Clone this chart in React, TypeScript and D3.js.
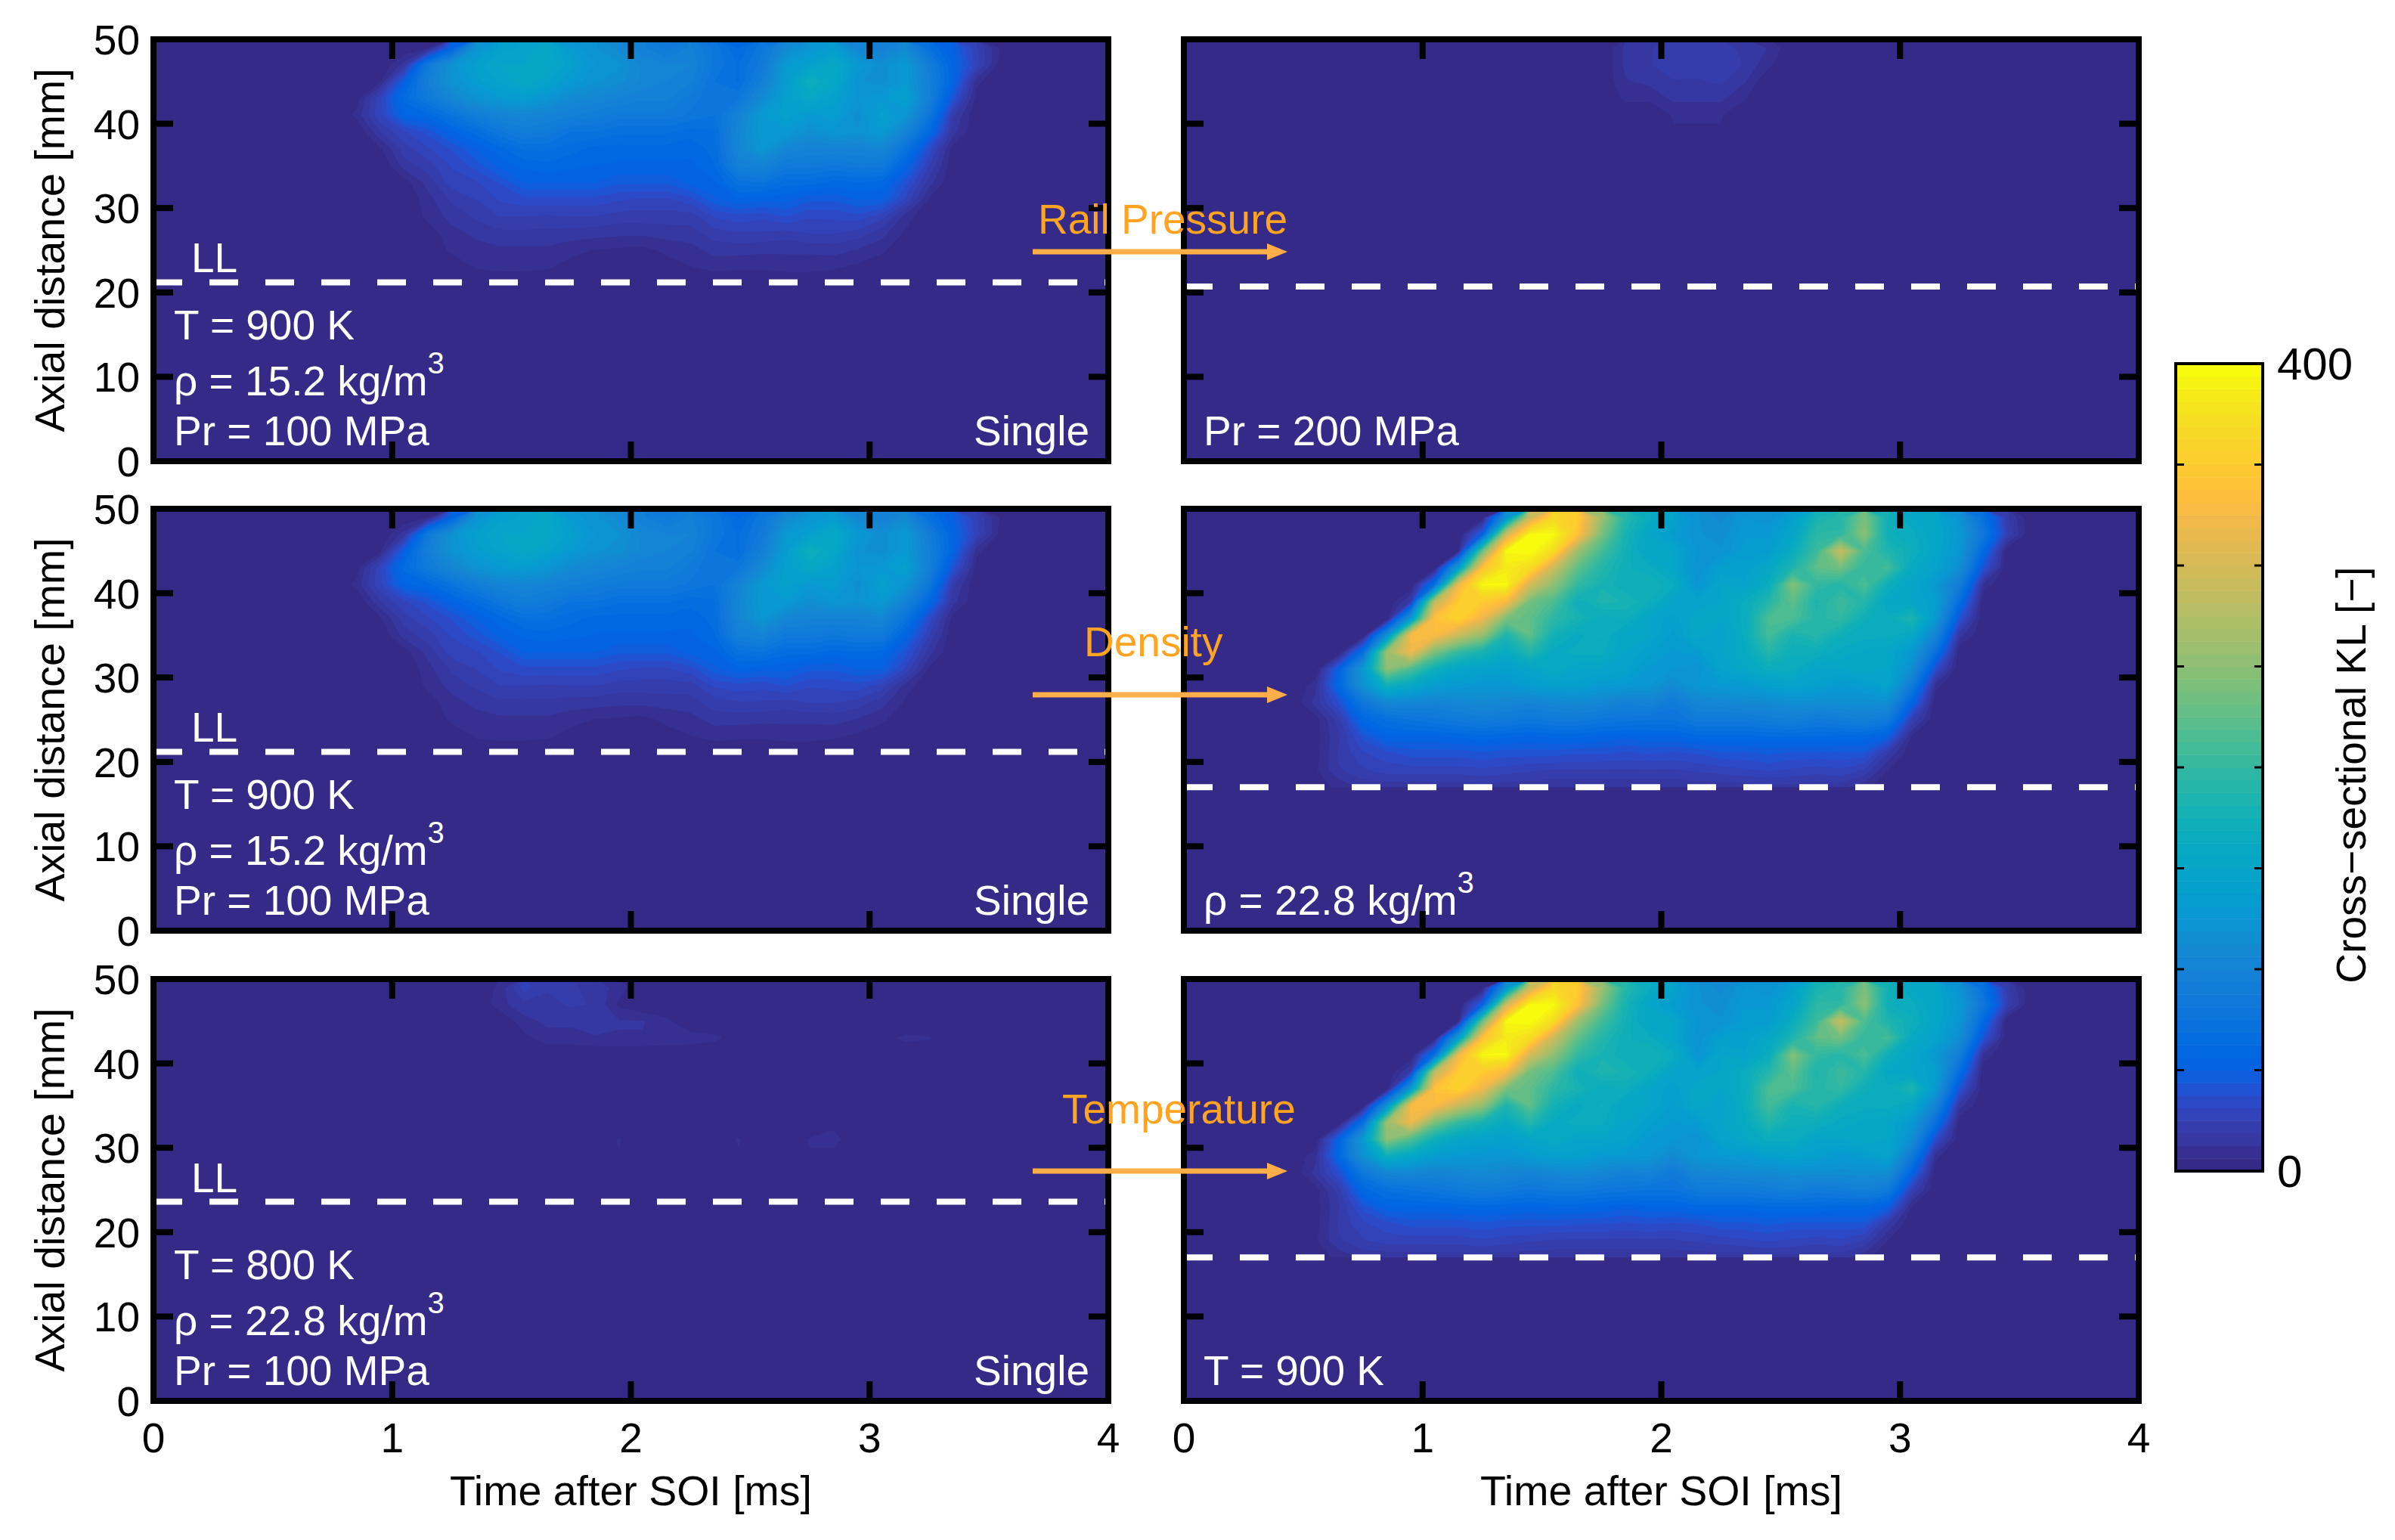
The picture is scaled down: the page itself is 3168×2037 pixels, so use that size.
import React from "react";
import * as d3 from "d3";

// parula, 64 levels
const palette = [
  [0.2081, 0.1663, 0.5292], [0.2116, 0.1898, 0.5777], [0.2123, 0.2138, 0.627], [0.2081, 0.2386, 0.6771],
  [0.1959, 0.2645, 0.7279], [0.1707, 0.2919, 0.7792], [0.1253, 0.3242, 0.8303], [0.0591, 0.3598, 0.8683],
  [0.0117, 0.3875, 0.882], [0.006, 0.4086, 0.8828], [0.0165, 0.4266, 0.8786], [0.0329, 0.443, 0.872],
  [0.0498, 0.4586, 0.8641], [0.0629, 0.4737, 0.8554], [0.0723, 0.4887, 0.8467], [0.0779, 0.504, 0.8384],
  [0.0793, 0.52, 0.8312], [0.0749, 0.5375, 0.8263], [0.0641, 0.557, 0.824], [0.0488, 0.5772, 0.8228],
  [0.0343, 0.5966, 0.8199], [0.0265, 0.6137, 0.8135], [0.0239, 0.6287, 0.8038], [0.0231, 0.6418, 0.7913],
  [0.0228, 0.6535, 0.7768], [0.0267, 0.6642, 0.7607], [0.0384, 0.6743, 0.7436], [0.059, 0.6838, 0.7254],
  [0.0843, 0.6928, 0.7062], [0.1133, 0.7015, 0.6859], [0.1453, 0.7098, 0.6646], [0.1801, 0.7177, 0.6424],
  [0.2178, 0.725, 0.6193], [0.2586, 0.7317, 0.5954], [0.3022, 0.7376, 0.5712], [0.3482, 0.7424, 0.5473],
  [0.3953, 0.7459, 0.5244], [0.442, 0.7481, 0.5033], [0.4871, 0.7491, 0.484], [0.53, 0.7491, 0.4661],
  [0.5709, 0.7485, 0.4494], [0.6099, 0.7473, 0.4337], [0.6473, 0.7456, 0.4188], [0.6834, 0.7435, 0.4044],
  [0.7184, 0.7411, 0.3905], [0.7525, 0.7384, 0.3768], [0.7858, 0.7356, 0.3633], [0.8185, 0.7327, 0.3498],
  [0.8507, 0.7299, 0.336], [0.8824, 0.7274, 0.3217], [0.9139, 0.7258, 0.3063], [0.945, 0.7261, 0.2886],
  [0.9739, 0.7314, 0.2666], [0.9938, 0.7455, 0.2403], [0.999, 0.7653, 0.2164], [0.9955, 0.7861, 0.1967],
  [0.988, 0.8066, 0.1794], [0.9789, 0.8271, 0.1633], [0.9697, 0.8481, 0.1475], [0.9626, 0.8705, 0.1309],
  [0.9589, 0.8949, 0.1132], [0.9598, 0.9218, 0.0948], [0.9661, 0.9514, 0.0755], [0.9763, 0.9831, 0.0538],
].map(([r, g, b]) => d3.rgb(r * 255, g * 255, b * 255).formatHex());

const timeTicks = [0, 1, 2, 3, 4];
const axialTicks = [0, 10, 20, 30, 40, 50];
const barTicks = [0, 50, 100, 150, 200, 250, 300, 350, 400];

// every row is KL at t = 0.45, 0.55 ... 3.55 ms, rows go 49, 47, 45 ... mm
const baseCase = [
  [0,0,0,0,0,0,0,5,55,120,140,145,155,130,120,110,95,85,95,80,62,80,110,125,135,105,95,110,70,50,25,5],
  [0,0,0,0,0,0,15,85,120,140,150,150,155,140,125,120,105,100,100,80,68,85,130,140,155,130,115,130,90,55,28,3],
  [0,0,0,0,0,5,50,95,120,135,145,155,145,130,120,115,105,100,95,75,68,95,135,170,155,120,115,130,95,55,8,0],
  [0,0,0,0,3,30,65,85,105,120,130,135,125,110,105,100,95,95,85,75,80,110,140,155,140,125,130,140,95,40,3,0],
  [0,0,0,0,8,30,55,60,75,90,100,105,100,95,90,85,85,85,80,75,100,130,140,130,135,115,140,125,80,20,0,0],
  [0,0,0,0,0,18,30,40,55,65,80,90,85,75,75,70,70,70,65,68,105,130,130,115,125,120,130,100,60,15,0,0],
  [0,0,0,0,0,5,22,30,38,50,60,70,70,65,60,60,60,60,58,65,105,125,105,100,100,100,105,75,35,3,0,0],
  [0,0,0,0,0,0,15,22,32,40,52,58,60,58,56,55,55,55,55,62,95,100,85,85,80,85,85,55,25,0,0,0],
  [0,0,0,0,0,0,3,15,28,30,38,50,50,50,50,45,45,45,52,55,72,75,65,65,60,62,60,40,15,0,0,0],
  [0,0,0,0,0,0,0,10,20,25,32,35,35,35,35,32,30,30,35,48,55,52,52,45,45,50,50,30,5,0,0,0],
  [0,0,0,0,0,0,0,8,15,20,25,25,24,25,25,22,22,22,22,32,35,33,38,32,33,35,28,10,0,0,0,0],
  [0,0,0,0,0,0,0,3,10,14,17,17,17,16,15,14,14,15,16,22,24,24,22,25,25,22,15,5,0,0,0,0],
  [0,0,0,0,0,0,0,0,8,10,11,11,11,8,6,5,4,8,10,15,15,14,14,14,15,12,8,0,0,0,0,0],
  [0,0,0,0,0,0,0,0,0,7,8,8,7,4,3,3,3,3,6,8,7,7,8,8,7,5,0,0,0,0,0,0],
  [0,0,0,0,0,0,0,0,0,1,1,1,1,1,1,1,1,1,2,2,2,2,2,2,2,1,0,0,0,0,0,0],
];

const highPressure = [
  [0,0,0,0,0,0,0,0,0,0,0,0,0,0,14,18,22,20,20,18,12,0,0,0,0,0,0,0,0,0,0,0],
  [0,0,0,0,0,0,0,0,0,0,0,0,0,0,14,18,25,22,25,18,8,0,0,0,0,0,0,0,0,0,0,0],
  [0,0,0,0,0,0,0,0,0,0,0,0,0,0,12,14,18,18,20,13,0,0,0,0,0,0,0,0,0,0,0,0],
  [0,0,0,0,0,0,0,0,0,0,0,0,0,0,8,8,14,14,14,7,0,0,0,0,0,0,0,0,0,0,0,0],
  [0,0,0,0,0,0,0,0,0,0,0,0,0,0,0,0,7,7,7,0,0,0,0,0,0,0,0,0,0,0,0,0],
];

const highDensity = [
  [0,0,0,0,0,0,0,0,0,120,290,365,350,260,190,165,145,120,110,125,120,140,180,190,240,175,155,150,120,70,20,0],
  [0,0,0,0,0,0,0,0,50,290,395,395,340,240,180,150,135,120,115,130,130,150,195,195,250,170,165,150,130,80,25,0],
  [0,0,0,0,0,0,0,5,230,395,400,370,260,210,175,150,150,125,120,135,135,165,205,290,215,185,170,150,125,60,0,0],
  [0,0,0,0,0,0,0,140,340,385,370,290,225,190,170,165,150,120,140,140,155,185,225,235,200,210,160,145,115,40,0,0],
  [0,0,0,0,0,0,70,320,395,395,300,250,200,180,170,175,165,125,150,145,165,245,200,190,215,170,150,130,90,10,0,0],
  [0,0,0,0,0,20,280,350,350,330,235,215,170,185,180,170,150,145,150,165,190,225,185,205,190,155,150,140,65,0,0,0],
  [0,0,0,0,0,130,340,360,320,240,225,195,180,165,170,150,140,155,150,165,215,215,190,200,170,165,185,130,40,0,0,0],
  [0,0,0,0,120,330,330,290,255,185,225,175,160,170,150,150,135,155,145,165,210,180,190,170,165,165,155,100,15,0,0,0],
  [0,0,0,70,260,320,240,200,180,160,190,160,165,165,150,140,130,135,150,160,190,170,170,160,155,150,130,70,0,0,0,0],
  [0,0,55,130,250,215,170,150,145,140,150,160,150,150,145,130,125,120,145,155,165,165,150,150,155,150,115,35,0,0,0,0],
  [0,10,60,120,170,155,135,130,125,125,135,140,140,130,130,125,110,125,130,130,140,145,140,130,135,145,85,8,0,0,0,0],
  [0,15,38,80,105,105,100,105,110,105,100,105,110,105,95,100,85,105,105,110,110,115,115,115,115,115,55,0,0,0,0,0],
  [0,3,22,60,70,75,80,85,90,85,80,85,85,80,78,75,75,85,85,85,90,95,85,90,95,85,25,0,0,0,0,0],
  [0,3,18,40,55,55,55,58,60,58,55,58,58,55,52,55,55,60,60,60,62,62,62,60,60,50,5,0,0,0,0,0],
  [0,3,20,30,35,40,40,40,42,40,40,40,38,38,36,38,36,38,42,42,45,42,42,42,42,18,0,0,0,0,0,0],
  [2,5,18,24,28,28,28,28,30,28,26,24,24,24,24,24,24,26,28,30,32,30,28,30,24,6,0,0,0,0,0,0],
  [0,3,8,14,14,14,15,15,16,15,14,14,14,14,14,14,14,14,15,15,16,16,15,15,8,2,0,0,0,0,0,0],
];

const lowTemperature = [
  [0,0,0,0,0,0,0,0,0,0,8,28,20,20,16,10,0,0,0,0,0,0,0,0,0,0,0,0,0,0,0,0],
  [0,0,0,0,0,0,0,0,0,0,10,17,16,20,18,5,0,0,0,0,0,0,0,0,0,0,0,0,0,0,0,0],
  [0,0,0,0,0,0,0,0,0,0,0,10,14,14,15,13,13,8,0,0,0,0,0,0,0,0,0,0,0,0,0,0],
  [0,0,0,0,0,0,0,0,0,0,0,4,10,10,12,12,12,11,10,8,3,0,0,0,0,0,3,8,7,0,0,0],
  [0,0,0,0,0,0,0,0,0,0,0,0,0,0,0,0,0,0,0,0,0,0,0,0,0,0,0,0,0,0,0,0],
  [0,0,0,0,0,0,0,0,0,0,0,0,0,0,0,0,0,0,0,0,0,0,0,0,0,0,0,0,0,0,0,0],
  [0,0,0,0,0,0,0,0,0,0,0,0,0,0,0,0,0,0,0,0,0,0,0,0,0,0,0,0,0,0,0,0],
  [0,0,0,0,0,0,0,0,0,0,0,0,0,0,0,0,0,0,0,0,0,0,0,0,0,0,0,0,0,0,0,0],
  [0,0,0,0,0,0,0,0,0,0,0,0,0,0,0,0,0,0,0,0,0,0,0,0,4,0,0,0,0,0,0,0],
  [0,0,0,0,0,0,0,0,0,0,0,0,0,0,0,7,0,0,0,0,7,0,0,7,9,0,0,0,0,0,0,0],
];

const FONT = "'Liberation Sans', Arial, sans-serif";
const PANEL_W = 1263;
const PANEL_H = 558;
const TICK = 26;
const TIME_START = 0.4;
const TIME_STEP = 0.1;
const AXIAL_STEP = 2;
const LEVEL = 400 / 64;

const ORANGE_TEXT = "#ffa321";
const ORANGE_LINE = "#ffae4a";

const panels = [
  { id: "a", col: 0, row: 0, data: baseCase, ll: 21.2, showLL: true, single: true, lines: ["T = 900 K", "rho:15.2", "Pr = 100 MPa"] },
  { id: "b", col: 1, row: 0, data: highPressure, ll: 20.7, lines: ["", "", "Pr = 200 MPa"] },
  { id: "c", col: 0, row: 1, data: baseCase, ll: 21.2, showLL: true, single: true, lines: ["T = 900 K", "rho:15.2", "Pr = 100 MPa"] },
  { id: "d", col: 1, row: 1, data: highDensity, ll: 17, lines: ["", "", "rho:22.8"] },
  { id: "e", col: 0, row: 2, data: lowTemperature, ll: 23.6, showLL: true, llY: 1577, single: true, lines: ["T = 800 K", "rho:22.8", "Pr = 100 MPa"] },
  { id: "f", col: 1, row: 2, data: highDensity, ll: 17, lines: ["", "", "T = 900 K"] },
];

const colLeft = [203, 1566];
const rowTop = [52, 673, 1295];

const arrows = [
  { label: "Rail Pressure", labelX: 1373, labelY: 309, y: 333 },
  { label: "Density", labelX: 1434, labelY: 868, y: 919 },
  { label: "Temperature", labelX: 1405, labelY: 1486, y: 1549 },
];

const Annotation = ({ text, x, y }) => {
  if (!text) return null;
  if (text.startsWith("rho:")) {
    return (
      <text x={x} y={y} fontSize={55} fill="#fff">
        {`ρ = ${text.slice(4)} kg/m`}
        <tspan dy={-29} fontSize={40}>3</tspan>
      </text>
    );
  }
  return <text x={x} y={y} fontSize={55} fill="#fff">{text}</text>;
};

const Panel = ({ panel }) => {
  const left = colLeft[panel.col];
  const top = rowTop[panel.row];
  const x = d3.scaleLinear().domain([0, 4]).range([left, left + PANEL_W]);
  const y = d3.scaleLinear().domain([0, 50]).range([top + PANEL_H, top]);

  const nx = panel.data[0].length;
  const ny = panel.data.length;
  const bands = d3
    .contours()
    .size([nx, ny])
    .thresholds(d3.range(1, 64).map((i) => i * LEVEL))(panel.data.flat());
  const path = d3.geoPath(
    d3.geoTransform({
      point(gx, gy) {
        this.stream.point(x(TIME_START + gx * TIME_STEP), y(50 - gy * AXIAL_STEP));
      },
    })
  );

  const bottom = panel.row === 2;
  const llY = y(panel.ll);
  const annotationX = left + (panel.col === 0 ? 27 : 26);

  return (
    <g>
      <clipPath id={`clip-${panel.id}`}>
        <rect x={left} y={top} width={PANEL_W} height={llY - top} />
      </clipPath>
      <rect x={left} y={top} width={PANEL_W} height={PANEL_H} fill={palette[0]} />
      <g clipPath={`url(#clip-${panel.id})`}>
        {bands.map((b, i) => (
          <path key={i} d={path(b) || ""} fill={palette[i + 1]} />
        ))}
      </g>
      <line
        x1={left}
        x2={left + PANEL_W}
        y1={llY}
        y2={llY}
        stroke="#fff"
        strokeWidth={8}
        strokeDasharray="38 36"
      />
      {panel.showLL && (
        <text x={left + 50} y={panel.llY ?? top + 308} fontSize={55} fill="#fff">LL</text>
      )}
      <Annotation text={panel.lines[0]} x={annotationX} y={top + 397} />
      <Annotation text={panel.lines[1]} x={annotationX} y={top + 471} />
      <Annotation text={panel.lines[2]} x={annotationX} y={top + 537} />
      {panel.single && (
        <text x={left + PANEL_W - 25} y={top + 537} fontSize={55} fill="#fff" textAnchor="end">Single</text>
      )}

      {timeTicks.map((t) => (
        <g key={t}>
          <line x1={x(t)} x2={x(t)} y1={top} y2={top + TICK} stroke="#000" strokeWidth={8} />
          <line x1={x(t)} x2={x(t)} y1={top + PANEL_H} y2={top + PANEL_H - TICK} stroke="#000" strokeWidth={8} />
          {bottom && (
            <text x={x(t)} y={top + PANEL_H + 68} fontSize={55} textAnchor="middle">{t}</text>
          )}
        </g>
      ))}
      {axialTicks.map((a) => (
        <g key={a}>
          <line x1={left} x2={left + TICK} y1={y(a)} y2={y(a)} stroke="#000" strokeWidth={8} />
          <line x1={left + PANEL_W} x2={left + PANEL_W - TICK} y1={y(a)} y2={y(a)} stroke="#000" strokeWidth={8} />
          {panel.col === 0 && (
            <text x={left - 18} y={y(a) + 20} fontSize={55} textAnchor="end">{a}</text>
          )}
        </g>
      ))}
      <rect x={left} y={top} width={PANEL_W} height={PANEL_H} fill="none" stroke="#000" strokeWidth={8} />

      {panel.col === 0 && (
        <text
          transform={`translate(85,${top + PANEL_H / 2}) rotate(-90)`}
          fontSize={55.5}
          textAnchor="middle"
        >
          Axial distance [mm]
        </text>
      )}
      {bottom && (
        <text x={left + PANEL_W / 2} y={1991} fontSize={55.5} textAnchor="middle">Time after SOI [ms]</text>
      )}
    </g>
  );
};

const ColorBar = () => {
  const left = 2878;
  const right = 2993;
  const bar = d3.scaleLinear().domain([0, 400]).range([1549, 481]);
  return (
    <g>
      {palette.map((c, i) => (
        <rect
          key={c}
          x={left}
          y={bar((i + 1) * LEVEL)}
          width={right - left}
          height={bar(i * LEVEL) - bar((i + 1) * LEVEL) + 0.5}
          fill={c}
        />
      ))}
      {barTicks.map((v) => (
        <g key={v}>
          <line x1={left} x2={left + 11} y1={bar(v)} y2={bar(v)} stroke="#000" strokeWidth={3} />
          <line x1={right} x2={right - 11} y1={bar(v)} y2={bar(v)} stroke="#000" strokeWidth={3} />
        </g>
      ))}
      <rect x={left} y={481} width={right - left} height={1068} fill="none" stroke="#000" strokeWidth={4} />
      <text x={3012} y={bar(400) + 21} fontSize={60}>400</text>
      <text x={3012} y={bar(0) + 21} fontSize={60}>0</text>
      <text transform={`translate(3129,1025) rotate(-90)`} fontSize={55} textAnchor="middle">
        Cross−sectional KL [−]
      </text>
    </g>
  );
};

const App = () => {
  return (
    <svg
      width={3168}
      height={2037}
      style={{ position: "absolute", left: 0, top: 0, background: "#fff" }}
      fontFamily={FONT}
    >
      {panels.map((p) => (
        <Panel key={p.id} panel={p} />
      ))}
      <ColorBar />
      {arrows.map((a) => (
        <g key={a.label}>
          <text x={a.labelX} y={a.labelY} fontSize={55} fill={ORANGE_TEXT}>{a.label}</text>
          <line x1={1366} x2={1680} y1={a.y} y2={a.y} stroke={ORANGE_LINE} strokeWidth={7} />
          <path d={d3.line()([[1676, a.y - 11], [1703, a.y], [1676, a.y + 11]]) + "Z"} fill={ORANGE_LINE} />
        </g>
      ))}
    </svg>
  );
};

export default App;
